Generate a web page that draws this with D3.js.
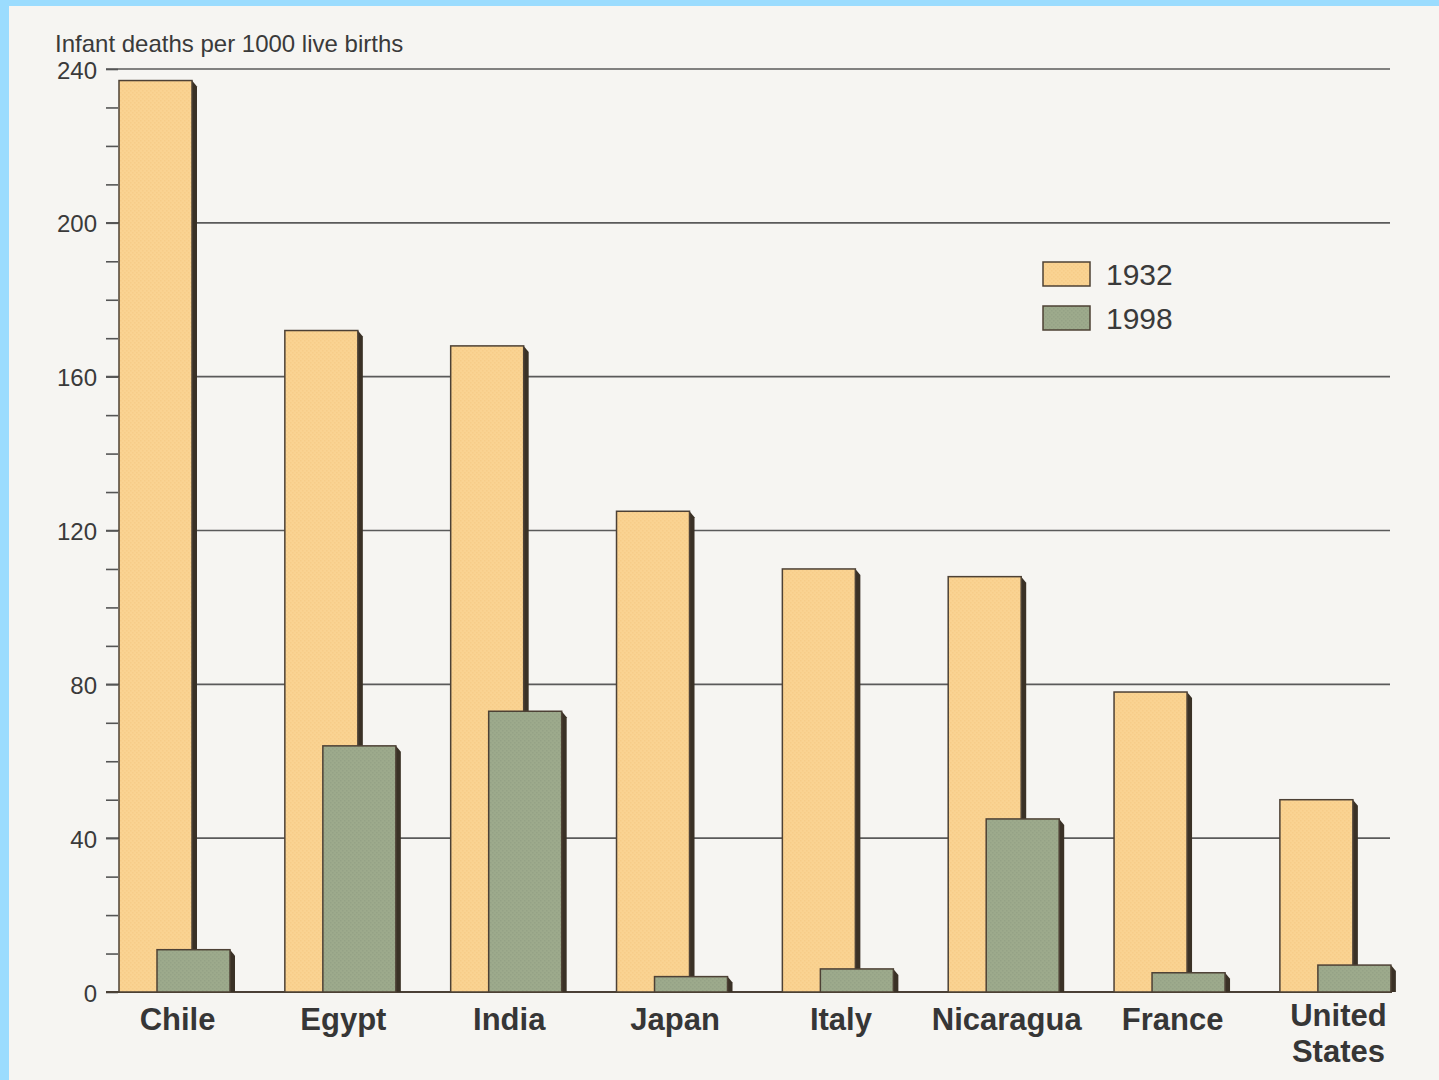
<!DOCTYPE html>
<html>
<head>
<meta charset="utf-8">
<script src="https://cdn.jsdelivr.net/npm/d3@7"></script>
<style>
  html, body { margin: 0; padding: 0; background: #9BDCFE; }
  svg { display: block; }
</style>
</head>
<body>
<svg id="chart" width="1439" height="1080"></svg>
<script>
const countries = ["Chile", "Egypt", "India", "Japan", "Italy", "Nicaragua", "France", "United States"];
const years = ["1932", "1998"];
const values1932 = [237, 172, 168, 125, 110, 108, 78, 50];
const values1998 = [11, 64, 73, 4, 6, 45, 5, 7];
const yTicks = [0, 40, 80, 120, 160, 200, 240];
const yMinorTicks = d3.range(0, 241, 10);
const yTitle = "Infant deaths per 1000 live births";

const svg = d3.select("#chart");
const W = 1439, H = 1080;

// background page
svg.append("rect").attr("x", 9).attr("y", 6).attr("width", W - 9).attr("height", H - 6).attr("fill", "#F6F5F2");

const y = d3.scaleLinear().domain([0, 240]).range([992, 69]);
const x0 = d3.scaleBand().domain(countries).range([119, 1391]).paddingInner(0.33).paddingOuter(0);
const x1 = d3.scalePoint().domain(years).range([0, 38]);
const barW = 73;

const colors = { "1932": "#FAD392", "1998": "#9DAA8C" };

// patterns for slight print texture
const defs = svg.append("defs");
function makePattern(id, base, dot) {
  const p = defs.append("pattern").attr("id", id).attr("width", 4).attr("height", 4).attr("patternUnits", "userSpaceOnUse");
  p.append("rect").attr("width", 4).attr("height", 4).attr("fill", base);
  p.append("rect").attr("x", 0).attr("y", 0).attr("width", 1.5).attr("height", 1.5).attr("fill", dot).attr("opacity", 0.35);
  p.append("rect").attr("x", 2).attr("y", 2).attr("width", 1.5).attr("height", 1.5).attr("fill", dot).attr("opacity", 0.35);
}
makePattern("p1932", colors["1932"], "#F0BE78");
makePattern("p1998", colors["1998"], "#85937A");

// gridlines
svg.append("g").selectAll("line").data(yTicks.filter(d => d > 0)).join("line")
  .attr("x1", 106).attr("x2", 1390)
  .attr("y1", d => y(d)).attr("y2", d => y(d))
  .attr("stroke", "#5a5a5a").attr("stroke-width", 1.6);

// y axis ticks and labels
const yAxis = d3.axisLeft(y).tickValues(yMinorTicks).tickSize(12).tickFormat(d => yTicks.includes(d) ? d : "");
const gAxis = svg.append("g").attr("transform", "translate(118,0)").call(yAxis);
gAxis.select(".domain").remove();
gAxis.selectAll(".tick line").attr("stroke", "#555").attr("stroke-width", 1.6);
gAxis.selectAll(".tick text")
  .attr("x", -21).attr("dy", "0.38em")
  .attr("fill", "#3a3a3a")
  .style("font-family", "Liberation Sans, Arial, sans-serif")
  .style("font-size", "24px");

// baseline
svg.append("line").attr("x1", 106).attr("x2", 1392).attr("y1", y(0)).attr("y2", y(0))
  .attr("stroke", "#4a4036").attr("stroke-width", 2);

// bars
const data = [];
countries.forEach((c, i) => {
  data.push({ country: c, year: "1932", value: values1932[i] });
  data.push({ country: c, year: "1998", value: values1998[i] });
});

const gBars = svg.append("g");
const bar = gBars.selectAll("g.bar").data(data).join("g").attr("class", "bar");
bar.append("path")
  .attr("d", d => {
    const xl = x0(d.country) + x1(d.year), xr = xl + barW, yt = y(d.value), yb = y(0);
    return `M${xr},${yt} L${xr + 5},${yt + 6} L${xr + 5},${yb} L${xr},${yb} Z`;
  })
  .attr("fill", "#3a3126");
bar.append("rect")
  .attr("x", d => x0(d.country) + x1(d.year))
  .attr("y", d => y(d.value))
  .attr("width", barW)
  .attr("height", d => y(0) - y(d.value))
  .attr("fill", d => `url(#p${d.year})`)
  .attr("stroke", "#4d4135").attr("stroke-width", 1.5);

// category labels
const gLab = svg.append("g");
countries.forEach(c => {
  const cx = x0(c) + x0.bandwidth() / 2 + 3;
  const words = c === "United States" ? ["United", "States"] : [c];
  const t = gLab.append("text")
    .attr("x", cx).attr("y", 1030)
    .attr("text-anchor", "middle")
    .attr("fill", "#363636")
    .style("font-family", "Liberation Sans, Arial, sans-serif")
    .style("font-weight", "bold")
    .style("font-size", "31px");
  words.forEach((w, i) => {
    t.append("tspan").attr("x", cx).attr("dy", i === 0 ? (words.length > 1 ? -4 : 0) : 36).text(w);
  });
});

// title
svg.append("text").attr("x", 55).attr("y", 52).text(yTitle)
  .attr("fill", "#3a3a3a")
  .style("font-family", "Liberation Sans, Arial, sans-serif")
  .style("font-size", "24px");

// legend
const legend = svg.append("g").attr("transform", "translate(1043,262)");
years.forEach((yr, i) => {
  const g = legend.append("g").attr("transform", `translate(0,${i * 44})`);
  g.append("rect").attr("width", 47).attr("height", 24)
    .attr("fill", `url(#p${yr})`).attr("stroke", "#4d4135").attr("stroke-width", 1.5);
  g.append("text").attr("x", 63).attr("y", 23).text(yr)
    .attr("fill", "#3a3a3a")
    .style("font-family", "Liberation Sans, Arial, sans-serif")
    .style("font-size", "30px");
});
</script>
</body>
</html>
